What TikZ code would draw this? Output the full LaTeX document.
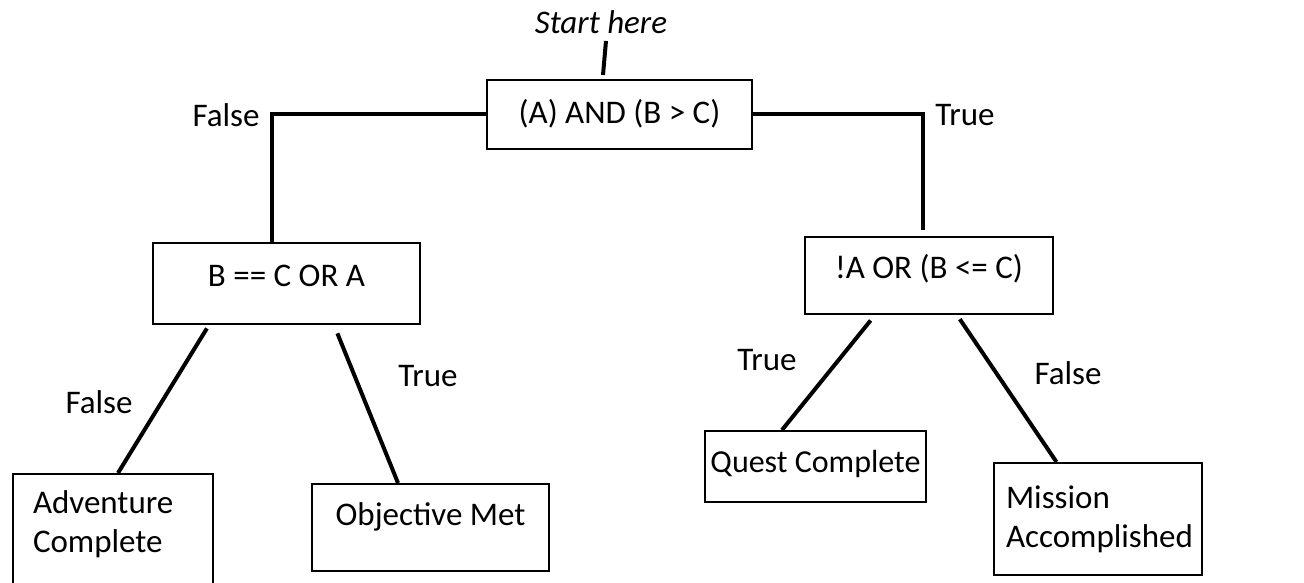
\documentclass[tikz,border=0pt]{standalone}
\usepackage{fontspec}
\setmainfont{Carlito}
\begin{document}
\begin{tikzpicture}[x=1pt,y=-1pt,
  every node/.style={font=\fontsize{33}{39}\selectfont},
  box/.style={draw, line width=2pt},
  one/.style={box, text height=21pt},
  wire/.style={line width=4pt}]
\clip (0,0) rectangle (1304,583);

\node[font=\fontsize{33}{39}\selectfont\itshape] (h) at (601,22) {Start here};
\node[one, minimum width=265pt, minimum height=69pt, text depth=3pt] (c) at (619.5,114.5) {(A) AND (B > C)};
\node[one, minimum width=267pt, minimum height=81pt, text depth=15pt] (cf) at (286.5,283.5) {B == C OR A};
\node[one, minimum width=248pt, minimum height=77pt, text depth=15pt] (ct) at (929,275.5) {!A OR (B <= C)};
\node[box, anchor=north west, text width=160pt, inner xsep=20pt, inner ysep=17pt, align=left, text depth=100pt] (cff) at (12,473) {Adventure\\Complete};
\node[one, minimum width=237pt, minimum height=87pt, text depth=25pt] (cft) at (430.5,527.5) {Objective Met};
\node[one, minimum width=221pt, minimum height=71pt, text depth=9pt, font=\fontsize{32}{38}\selectfont] (ctt) at (815.5,466.5) {Quest Complete};
\node[box, anchor=north west, minimum height=112pt, text width=184pt, inner xsep=12pt, align=left] (ctf) at (993,462) {Mission\\Accomplished};

\node (lf) at (226,115) {False};
\node (lt) at (965,115) {True};
\node (lff) at (99,402) {False};
\node (lft) at (428,376) {True};
\node (ltt) at (767,360) {True};
\node (ltf) at (1068,373) {False};

% short tick under the start text
\coordinate (ha) at (606,41);
\coordinate (hb) at (603,75);
\draw[wire] (ha)--(hb);

\draw[wire] (c.west) -| ([xshift=-14.5pt]cf.north);
\draw[wire, shorten >=6pt] (c.east) -| ([xshift=-6pt]ct.north);

\draw[wire, shorten <=4pt] ([xshift=-77.5pt]cf.south)--([xshift=5pt]cff.north);
\draw[wire, shorten <=9pt] ([xshift=47.5pt]cf.south)--([xshift=-32.5pt]cft.north);
\draw[wire, shorten <=7pt] ([xshift=-54pt]ct.south)--([xshift=-33.5pt]ctt.north);
\draw[wire, shorten <=5pt] ([xshift=28pt]ct.south)--([xshift=-41.5pt]ctf.north);
\end{tikzpicture}
\end{document}
